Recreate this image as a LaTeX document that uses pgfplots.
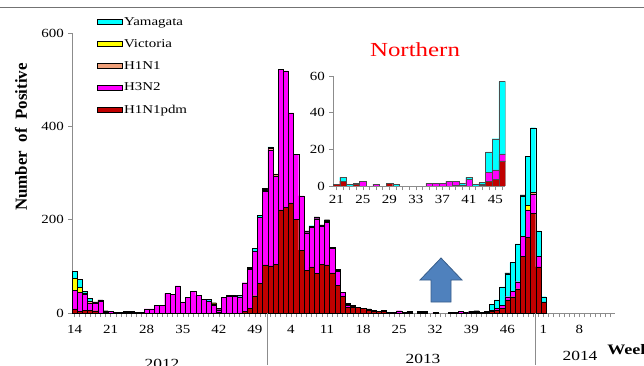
\documentclass[border=0pt]{standalone}
\usepackage{pgfplots}
\pgfplotsset{compat=1.18}
\usepackage{pgfplotstable}
\usepackage{fontspec}
\setmainfont{Liberation Serif}
\definecolor{cYam}{HTML}{00FFFF}
\definecolor{cVic}{HTML}{FFFF00}
\definecolor{cHone}{HTML}{EFA07A}
\definecolor{cHthree}{HTML}{FF00FF}
\definecolor{cPdm}{HTML}{C00000}
\definecolor{cArrow}{HTML}{4F81BD}
\definecolor{cArrowD}{HTML}{385D8A}

\pgfplotstableread{
idx pdm h3 h1 vic yam blk
0 9 39 0 26 16 0
1 4 40 0 11 17 0
2 6 34 0 3 3 0
3 6 16 0 4 6 0
4 5 16 0 0 0 3
5 0 25 0 0 0 3
6 2 0 0 0 0 3
7 0 3 0 0 0 0
8 0 1 0 0 0 0
9 0 1 0 0 0 0
10 0 0 0 0 0 3
11 0 0 0 0 0 3
12 0 1 0 0 0 0
13 0 1 0 0 0 0
14 0 9 0 0 0 0
15 0 9 0 0 0 0
16 0 17 0 0 0 0
17 0 17 0 0 0 0
18 0 42 0 0 0 0
19 0 40 0 0 0 0
20 0 58 0 0 0 0
21 0 24 0 0 0 0
22 0 34 0 0 0 0
23 0 46 0 0 0 0
24 0 38 0 0 0 0
25 0 29 0 0 0 0
26 0 26 0 0 3 0
27 0 17 0 3 0 2
28 2 5 0 0 0 3
29 0 34 0 0 0 0
30 0 36 0 0 0 2
31 0 36 0 0 0 2
32 0 35 0 0 3 0
33 4 61 0 0 0 0
34 10 83 0 0 0 5
35 37 96 0 0 6 0
36 64 141 0 0 5 0
37 103 158 0 0 0 6
38 101 249 0 3 3 0
39 105 188 5 0 0 0
40 221 301 0 0 0 0
41 226 293 0 0 0 0
42 236 193 0 0 0 0
43 201 139 0 0 0 0
44 135 116 0 0 0 0
45 92 80 0 0 0 4
46 99 85 0 0 3 0
47 85 117 0 0 0 4
48 105 81 0 0 0 3
49 103 92 0 0 0 5
50 86 52 0 0 3 0
51 59 31 0 0 0 4
52 36 8 0 0 0 0
53 12 5 0 0 0 4
54 13 0 0 0 0 4
55 12 0 0 0 0 0
56 10 0 0 0 0 0
57 6 0 0 0 0 3
58 4 0 0 0 0 2
59 3 0 0 0 0 0
60 3 0 0 0 0 3
61 2 0 0 0 0 0
62 2 0 0 0 0 0
63 0 5 0 0 0 0
64 1 0 0 0 0 0
65 0 0 0 0 0 3
66 0 0 0 0 0 0
67 0 0 0 0 0 3
68 0 0 0 0 0 3
69 0 0 0 0 0 0
70 0 1 0 0 0 0
71 0 0 0 0 0 0
72 0 0 0 0 0 0
73 0 0 0 0 0 2
74 0 0 0 0 0 2
75 0 4 0 0 0 0
76 0 0 0 0 0 2
77 0 2 0 0 0 2
78 0 2 0 0 0 3
79 0 0 0 0 0 2
80 2 0 0 0 2 0
81 3 3 0 0 13 0
82 6 4 0 0 18 0
83 10 7 0 0 39 0
84 28 7 0 0 49 2
85 35 11 0 0 62 0
86 52 15 0 0 81 0
87 122 43 0 0 86 2
88 162 59 0 10 105 0
89 213 41 4 0 139 0
90 99 22 0 0 55 0
91 24 0 0 0 11 0
}\maindata

\pgfplotstableread{
wk pdm h3 h1 vic yam blk
21 1 0 0 0 0 0
22 2.7 0 0 0 2 0
23 0 0 0 0 1 0
24 1 0 0 0.8 0 0
25 0 2.6 0 0 0 0
26 0 0 0 0 0 0
27 0 1 0 0 0 0
28 0 0 0 0 0 0
29 1.5 0 0 0 0 0
30 0 0 0 0 1 0
31 0 0 0 0 0 0
32 0 0 0 0 0 0
33 0 0 0 0 0 0
34 0 0 0 0 0 0
35 0 1.5 0 0 0 0
36 0 1.5 0 0 0 0
37 0 1.5 0 0 0 0
38 0 2.5 0 0 0 0
39 0.5 2 0 0 0 0
40 0.5 0 0 0 1 0
41 0 3.6 0 0 1.1 0
42 0 0 0 0 1 0
43 0.5 0.5 0 0 1 0
44 2.7 4.8 0 0 11.1 0
45 3.7 5.1 0 0 17 0
46 13.7 3.8 0 0 39.5 0
}\insetdata

\pgfplotsset{
  swatch/.style={legend image code/.code={\draw[##1,line width=0.6pt] (0bp,-2.5bp) rectangle (25bp,2.5bp);}},
}

\begin{document}
\begin{tikzpicture}[x=1bp,y=1bp]
\useasboundingbox (0,0) rectangle (644,365);
\draw[black!55, line width=0.8pt] (0,358) -- (644,358);
\begin{axis}[
  at={(72bp,52bp)}, anchor=south west, scale only axis,
  width=543bp, height=280bp,
  xmin=-0.5, xmax=104.9, ymin=0, ymax=600,
  ybar stacked, bar width=1,
  axis lines*=left, axis line style={black!45, line width=0.6pt},
  ytick={0,200,400,600},
  xtick={0,7,...,98},
  xticklabels={14,21,28,35,42,49,4,11,18,25,32,39,46,1,8},
  minor xtick={0,...,104},
  tick align=outside, major tick length=4bp, minor tick length=4bp,
  tick style={black!45, line width=0.5pt},
  /pgf/number format/assume math mode=true,
  ticklabel style={font=\fontsize{12.5}{14}\selectfont, xscale=1.2},
  xticklabel style={yshift=-5bp},
  clip=false,
  reverse legend,
  legend style={at={(0.046,1.06)}, anchor=north west, draw=none, fill=none,
    font=\fontsize{12}{13}\selectfont, row sep=10.5bp, inner sep=0pt,
    nodes={inner sep=1bp, xscale=1.25}},
  legend cell align=left,
]
\addplot[fill=cPdm, draw=black, line width=0.25pt, swatch] table[x=idx,y=pdm]{\maindata}; \addlegendentry{H1N1pdm}
\addplot[fill=cHthree, draw=black, line width=0.25pt, swatch] table[x=idx,y=h3]{\maindata}; \addlegendentry{H3N2}
\addplot[fill=cHone, draw=black, line width=0.25pt, swatch] table[x=idx,y=h1]{\maindata}; \addlegendentry{H1N1}
\addplot[fill=cVic, draw=black, line width=0.25pt, swatch] table[x=idx,y=vic]{\maindata}; \addlegendentry{Victoria}
\addplot[fill=cYam, draw=black, line width=0.25pt, swatch] table[x=idx,y=yam]{\maindata}; \addlegendentry{Yamagata}
\addplot[fill=black, draw=black, line width=0.25pt, forget plot] table[x=idx,y=blk]{\maindata};
\coordinate (L1) at (axis cs:37.5,0);
\coordinate (L2) at (axis cs:89.5,0);
\end{axis}
\draw[black!45, line width=0.8pt] (L1) -- (L1 |- 0,0);
\draw[black!45, line width=0.8pt] (L2) -- (L2 |- 0,0);

\begin{axis}[
  at={(333bp,179bp)}, anchor=south west, scale only axis,
  width=172.4bp, height=110bp,
  xmin=20.5, xmax=46.5, ymin=0, ymax=60,
  ybar stacked, bar width=1,
  axis lines*=left, axis line style={black!45, line width=0.6pt},
  ytick={0,20,40,60},
  xtick={21,25,...,45},
  minor xtick={21,...,46},
  tick align=outside, major tick length=4bp, minor tick length=4bp,
  tick style={black!45, line width=0.5pt},
  /pgf/number format/assume math mode=true,
  ticklabel style={font=\fontsize{12.5}{14}\selectfont, xscale=1.2},
  xticklabel style={yshift=-2bp},
]
\addplot[fill=cPdm, draw=black!70, line width=0.25pt] table[x=wk,y=pdm]{\insetdata};
\addplot[fill=cHthree, draw=black!70, line width=0.25pt] table[x=wk,y=h3]{\insetdata};
\addplot[fill=cHone, draw=black!70, line width=0.25pt] table[x=wk,y=h1]{\insetdata};
\addplot[fill=cVic, draw=black!70, line width=0.25pt] table[x=wk,y=vic]{\insetdata};
\addplot[fill=cYam, draw=black!70, line width=0.25pt] table[x=wk,y=yam]{\insetdata};
\addplot[fill=black, draw=black, line width=0.25pt] table[x=wk,y=blk]{\insetdata};
\end{axis}

\node[red, font=\fontsize{20}{22}\selectfont, xscale=1.25] at (415,315) {Northern};
\node[rotate=90, font=\bfseries\fontsize{17}{19}\selectfont] at (21,228) {Number\ \ of\ \ Positive};
\node[anchor=base, font=\fontsize{14}{15}\selectfont, inner sep=0pt, xscale=1.25] at (162,-3) {2012};
\node[anchor=base, font=\fontsize{14}{15}\selectfont, inner sep=0pt, xscale=1.25] at (423,2) {2013};
\node[anchor=base, font=\fontsize{14}{15}\selectfont, inner sep=0pt, xscale=1.25] at (580,5) {2014};
\node[anchor=base west, font=\bfseries\fontsize{14.5}{15}\selectfont, inner sep=0pt, xscale=1.25] at (607,11) {Week};
\filldraw[fill=cArrow, draw=cArrowD, line width=0.8pt]
  (431,63) -- (451,63) -- (451,85) -- (462,85) -- (441,107) -- (420,85) -- (431,85) -- cycle;
\end{tikzpicture}
\end{document}
